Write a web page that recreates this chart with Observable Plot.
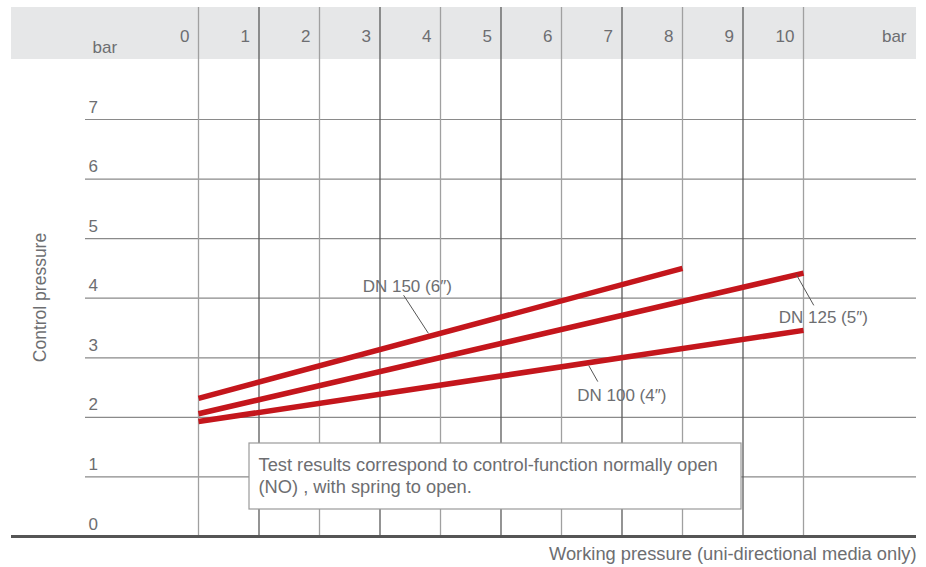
<!DOCTYPE html>
<html>
<head>
<meta charset="utf-8">
<script src="https://cdn.jsdelivr.net/npm/d3@7"></script>
<script src="https://cdn.jsdelivr.net/npm/@observablehq/plot@0.6"></script>
<style>
  html, body { margin: 0; padding: 0; background: #fff; }
  svg { display: block; }
</style>
</head>
<body>
<div id="chart"></div>
<script>
// ---- data ----
const xTicks = [0, 1, 2, 3, 4, 5, 6, 7, 8, 9, 10];
const yTicks = [0, 1, 2, 3, 4, 5, 6, 7];
const unitLabel = "bar";
const seriesNames = ["DN 150 (6″)", "DN 125 (5″)", "DN 100 (4″)"];
const startPressure = [0, 0, 0];
const endPressure = [8, 10, 10];
const startControl = [2.32, 2.06, 1.93];
const endControl = [4.50, 4.42, 3.46];
// annotation leader lines (data units) and label anchors
const leaderX1 = [3.39, 9.88, 6.45];
const leaderY1 = [4.05, 4.40, 2.87];
const leaderX2 = [3.80, 10.17, 6.60];
const leaderY2 = [3.41, 3.88, 2.60];
const labelX = [3.45, 9.59, 6.26];
const labelY = [4.10, 3.58, 2.28];
const labelAnchor = ["middle", "start", "start"];
const noteText = "Test results correspond to control-function normally open\n(NO) , with spring to open.";
const yTitle = "Control pressure";
const xTitle = "Working pressure (uni-directional media only)";

// ---- layout ----
const W = 926, H = 567;
const mL = 198, mR = 123, mT = 119, mB = 31;
const sx = Plot.scale({x: {domain: [0, 10], range: [mL, W - mR]}});
const sy = Plot.scale({y: {domain: [0, 7], range: [H - mB, mT]}});
const ix = (p) => sx.invert(p), iy = (p) => sy.invert(p);

const lines = [];
seriesNames.forEach((s, i) => {
  lines.push({s, x: startPressure[i], y: startControl[i]});
  lines.push({s, x: endPressure[i], y: endControl[i]});
});
const annos = seriesNames.map((s, i) => ({
  s, x1: leaderX1[i], y1: leaderY1[i], x2: leaderX2[i], y2: leaderY2[i],
  lx: labelX[i], ly: labelY[i], anchor: labelAnchor[i]
}));

const textColor = "#6d6e71";
const red = "#c4161c";

const chart = Plot.plot({
  width: W, height: H,
  marginLeft: mL, marginRight: mR, marginTop: mT, marginBottom: mB,
  x: {domain: [0, 10], axis: null},
  y: {domain: [0, 7], axis: null},
  style: {fontFamily: "'Liberation Sans', Arial, sans-serif", background: "#fff", color: textColor, overflow: "visible"},
  marks: [
    // top band
    Plot.rect([0], {x1: ix(11), x2: ix(916), y1: iy(59), y2: iy(7), fill: "#e6e7e8"}),
    // horizontal gridlines
    Plot.ruleY(yTicks.filter(d => d > 0), {x1: ix(85), x2: ix(916), stroke: "#8a8a8a", strokeWidth: 1.2}),
    // vertical gridlines
    Plot.ruleX(xTicks, {y1: 0, y2: iy(7), stroke: d => d % 2 ? "#5a5a5a" : "#a0a0a0", strokeWidth: 1.3}),
    // bottom baseline
    Plot.ruleY([0], {x1: ix(11), x2: ix(916), stroke: "#555", strokeWidth: 3}),
    // x tick labels
    Plot.text(xTicks, {x: d => d, y: iy(41), text: d => String(d), dx: -9, textAnchor: "end", lineAnchor: "bottom", fontSize: 17, fill: textColor}),
    Plot.text([unitLabel], {x: ix(92), y: iy(52), text: d => d, textAnchor: "start", lineAnchor: "bottom", fontSize: 17, fill: textColor}),
    Plot.text([unitLabel], {x: ix(906), y: iy(41), text: d => d, textAnchor: "end", lineAnchor: "bottom", fontSize: 17, fill: textColor}),
    // y tick labels
    Plot.text(yTicks, {x: ix(88), y: d => d, text: d => String(d), dy: -7, textAnchor: "start", lineAnchor: "bottom", fontSize: 17, fill: textColor}),
    // data lines
    Plot.line(lines, {x: "x", y: "y", z: "s", stroke: red, strokeWidth: 5.5, strokeLinecap: "butt"}),
    // leader lines
    Plot.link(annos, {x1: "x1", y1: "y1", x2: "x2", y2: "y2", stroke: "#555", strokeWidth: 1}),
    Plot.text(annos.filter(d => d.anchor === "middle"), {x: "lx", y: "ly", text: "s", textAnchor: "middle", lineAnchor: "bottom", fontSize: 17, fill: textColor}),
    Plot.text(annos.filter(d => d.anchor === "start"), {x: "lx", y: "ly", text: "s", textAnchor: "start", lineAnchor: "bottom", fontSize: 17, fill: textColor}),
    // note box
    Plot.rect([0], {x1: ix(249), x2: ix(741), y1: iy(509), y2: iy(443), fill: "#fff", stroke: "#9a9a9a", strokeWidth: 1.2}),
    Plot.text([noteText], {x: ix(258), y: iy(492), text: d => d, textAnchor: "start", lineAnchor: "bottom", lineHeight: 1.2, fontSize: 18.3, fill: textColor}),
    // axis titles
    Plot.text([yTitle], {x: ix(40), y: iy(297), text: d => d, rotate: -90, textAnchor: "middle", fontSize: 17.5, fill: textColor}),
    Plot.text([xTitle], {x: ix(916), y: iy(559), text: d => d, textAnchor: "end", lineAnchor: "bottom", fontSize: 18.3, fill: textColor})
  ]
});
document.getElementById("chart").appendChild(chart);
</script>
</body>
</html>
